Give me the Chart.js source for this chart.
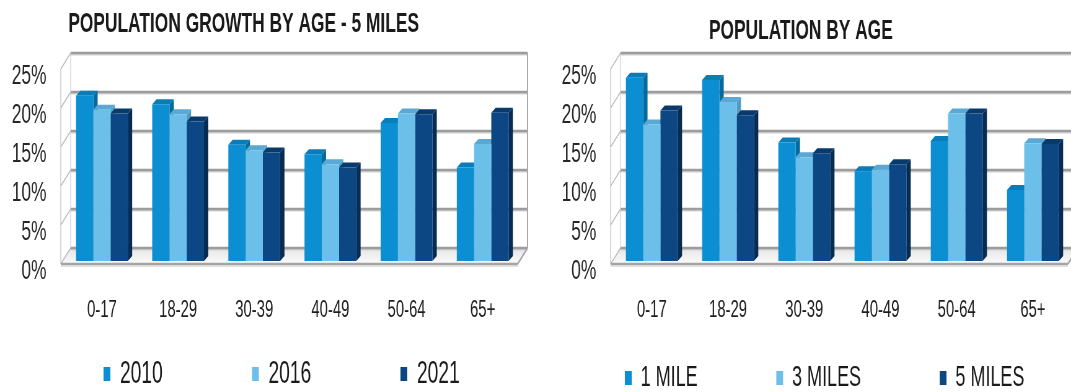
<!DOCTYPE html>
<html><head><meta charset="utf-8">
<script src="https://cdn.jsdelivr.net/npm/chart.js@4/dist/chart.umd.min.js"></script>
<style>
html,body{margin:0;padding:0;background:#fff;width:1071px;height:392px;overflow:hidden}
canvas{position:absolute;top:0}
#c1{left:0}
#c2{left:535px}
</style></head><body>
<canvas id="c1" width="863" height="392" style="width:535px;height:392px"></canvas>
<canvas id="c2" width="865" height="392" style="width:536px;height:392px"></canvas>
<script>
// ---- data ----
const ageGroups = ['0-17', '18-29', '30-39', '40-49', '50-64', '65+'];
const growthSeriesNames = ['2010', '2016', '2021'];
const growth2010 = [21.2, 20.1, 14.9, 13.7, 17.7, 12.0];
const growth2016 = [19.4, 18.8, 14.2, 12.4, 18.9, 15.0];
const growth2021 = [18.9, 17.9, 13.9, 12.0, 18.8, 19.0];
const radiusSeriesNames = ['1 MILE', '3 MILES', '5 MILES'];
const mile1 = [23.5, 23.2, 15.2, 11.5, 15.4, 9.1];
const mile3 = [17.5, 20.4, 13.3, 11.7, 18.9, 15.1];
const mile5 = [19.3, 18.7, 13.8, 12.4, 18.9, 15.0];
const yTickValues = [0, 5, 10, 15, 20, 25];
const leftTitle = 'POPULATION GROWTH BY AGE - 5 MILES';
const rightTitle = 'POPULATION BY AGE';

// ---- styles ----
const frontColors = ['#0b8ed2', '#6cbfe9', '#0c4783'];
const sideColors = ['#076a9e', '#4f9cc6', '#062c54'];
const topColors = ['#0a7cb8', '#5aa9d4', '#093a6c'];
const FONT = "'Liberation Sans', Arial, sans-serif";
const NARROW = "'Liberation Sans Narrow', 'Arial Narrow', 'Liberation Sans', sans-serif";
Chart.defaults.font.family = FONT;

const box3d = {
  id: 'box3d',
  afterLayout(chart, args, o) {
    const t = chart.titleBlock;
    if (t) { t.left = o.titleX - 700; t.right = o.titleX + 700; }
    const lg = chart.legend;
    if (lg) {
      lg.left = o.legendX - o.legendPad;
      lg.right = 100000;
      lg.top = o.legendY - o.legendPad - o.legendFont / 2;
    }
  },
  beforeDatasetsDraw(chart, args, o) {
    const ctx = chart.ctx;
    const L = chart.chartArea.left, R = chart.chartArea.right;
    const ys = chart.scales.y;
    const B = o.back, F = o.front, D = o.depth;
    const y0 = ys.getPixelForValue(0), yT = ys.getPixelForValue(ys.max);
    const line = (x1, y1, x2, y2, w, c) => {
      ctx.beginPath(); ctx.moveTo(x1, y1); ctx.lineTo(x2, y2);
      ctx.lineWidth = w; ctx.strokeStyle = c; ctx.stroke();
    };
    ctx.save();
    ctx.lineCap = 'butt';
    // floor
    const g = ctx.createLinearGradient(0, y0 + B[1], 0, y0 + F[1]);
    g.addColorStop(0, '#e6e6e6'); g.addColorStop(1, '#fbfbfb');
    ctx.fillStyle = g;
    ctx.beginPath();
    ctx.moveTo(L + F[0], y0 + F[1]); ctx.lineTo(R + F[0], y0 + F[1]);
    ctx.lineTo(R + B[0], y0 + B[1]); ctx.lineTo(L + B[0], y0 + B[1]);
    ctx.closePath(); ctx.fill();
    // back wall grid + side wall diagonals
    ys.ticks.forEach(t => {
      const y = ys.getPixelForValue(t.value);
      line(L + B[0], y + B[1] + 1.5, R + B[0], y + B[1] + 1.5, 2, '#d2d2d2');
      line(L + B[0], y + B[1], R + B[0], y + B[1], 2.5, '#9c9c9c');
      line(L + F[0], y + F[1], L + B[0], y + B[1], 1.2, '#b4b4b4');
    });
    line(L + B[0], yT + B[1], L + B[0], y0 + B[1], 1, '#c4c4c4');
    line(R + B[0], yT + B[1], R + B[0], y0 + B[1], 2, '#a8a8a8');
    line(L + F[0], yT + F[1], L + F[0], y0 + F[1], 1.2, '#bcbcbc');
    // floor edges
    line(L + F[0], y0 + F[1], R + F[0], y0 + F[1], 2.5, '#a4a4a4');
    line(L + F[0], y0 + F[1] + 2, R + F[0], y0 + F[1] + 2, 1.5, '#d6d6d6');
    line(R + F[0], y0 + F[1], R + B[0], y0 + B[1], 2, '#a4a4a4');
    // bar sides and tops (fronts drawn by Chart.js afterwards)
    const n = chart.data.labels.length;
    for (let i = 0; i < n; i++) {
      chart.data.datasets.forEach((ds, k) => {
        const el = chart.getDatasetMeta(k).data[i];
        if (!el) return;
        const p = el.getProps(['x', 'y', 'base', 'width'], true);
        const x0 = p.x - p.width / 2, x1 = p.x + p.width / 2;
        ctx.fillStyle = sideColors[k];
        ctx.beginPath();
        ctx.moveTo(x1, p.y); ctx.lineTo(x1 + D[0], p.y + D[1]);
        ctx.lineTo(x1 + D[0], p.base + D[1]); ctx.lineTo(x1, p.base);
        ctx.closePath(); ctx.fill();
        ctx.fillStyle = topColors[k];
        ctx.beginPath();
        ctx.moveTo(x0, p.y); ctx.lineTo(x1, p.y);
        ctx.lineTo(x1 + D[0], p.y + D[1]); ctx.lineTo(x0 + D[0], p.y + D[1]);
        ctx.closePath(); ctx.fill();
      });
    }
    ctx.restore();
  }
};

function makeChart(id, titleText, names, series, cfg) {
  return new Chart(document.getElementById(id), {
    type: 'bar',
    data: {
      labels: ageGroups,
      datasets: series.map((vals, k) => ({
        label: names[k],
        data: vals,
        backgroundColor: frontColors[k],
        borderWidth: 0,
        categoryPercentage: 0.68,
        barPercentage: 1.0
      }))
    },
    plugins: [box3d],
    options: {
      responsive: false,
      devicePixelRatio: 1,
      animation: false,
      layout: { padding: { left: 0, right: cfg.padRight, top: 0, bottom: 0 } },
      scales: {
        x: {
          grid: { display: false, drawTicks: false },
          border: { display: false },
          ticks: { font: { family: NARROW, size: 24 }, color: '#1e1e1e', padding: 35, maxRotation: 0, autoSkip: false },
          afterFit(s) { s.height = 81; }
        },
        y: {
          min: 0, max: 25,
          grid: { display: false, drawTicks: false },
          border: { display: false },
          afterBuildTicks(s) { s.ticks = yTickValues.map(v => ({ value: v })); },
          ticks: { font: { size: 28 }, color: '#262626', padding: 28, labelOffset: 10, callback: v => v + '%' },
          afterFit(s) { s.width = cfg.yWidth; }
        }
      },
      plugins: {
        tooltip: { enabled: false },
        title: {
          display: true, text: titleText, color: '#1a1a1a',
          font: { size: 28, weight: 'bold' },
          padding: { top: cfg.titlePadTop, bottom: cfg.titlePadBottom }
        },
        legend: {
          display: true, position: 'bottom', align: 'start', maxHeight: 50,
          labels: { boxWidth: 11, boxHeight: 14, padding: cfg.legendPad, color: '#1a1a1a', font: { size: cfg.legendFont } }
        },
        box3d: {
          titleX: cfg.titleX, legendX: cfg.legendX, legendY: cfg.legendY,
          legendPad: cfg.legendPad, legendFont: cfg.legendFont,
          back: [11, -13], front: [-5, 3], depth: [7, -5]
        }
      }
    }
  });
}

makeChart('c1', leftTitle, growthSeriesNames, [growth2010, growth2016, growth2021], {
  padRight: 23, yWidth: 103, titlePadTop: 7, titlePadBottom: 25.4,
  titleX: 393, legendX: 167, legendY: 374, legendPad: 144, legendFont: 31
});
makeChart('c2', rightTitle, radiusSeriesNames, [mile1, mile3, mile5], {
  padRight: 0, yWidth: 127, titlePadTop: 14, titlePadBottom: 18.4,
  titleX: 429, legendX: 145, legendY: 378, legendPad: 127, legendFont: 29
});
</script>
</body></html>
